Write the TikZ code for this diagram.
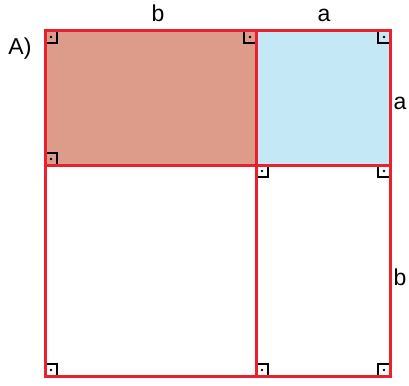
\documentclass[tikz,border=0pt]{standalone}
\usepackage{fontspec}
\setmainfont{Liberation Sans}
\definecolor{redline}{RGB}{236,32,44}
\definecolor{brownfill}{RGB}{221,156,137}
\definecolor{bluefill}{RGB}{197,232,247}
\tikzset{
  side/.style={draw=redline,line width=3pt},
  ang/.style={draw=black,line width=1.2pt},
  lbl/.style={font=\fontsize{23}{27}\selectfont,anchor=base,inner sep=0pt}
}
\newcommand{\rmark}[3]{%
  \draw[ang] #1 ++(#2*12,0) -- ++(0,#3*12) -- ++(-#2*12,0);
  \fill #1 ++(#2*6,#3*6) circle (1.3);
}
\begin{document}
\begin{tikzpicture}[x=1pt,y=-1pt]
\useasboundingbox (0,0) rectangle (409,385);
\coordinate (tl) at (45,31);
\coordinate (tm) at (256,31);
\coordinate (tr) at (390,31);
\coordinate (ml) at (45,165);
\coordinate (mm) at (256,165);
\coordinate (mr) at (390,165);
\coordinate (bl) at (45,376);
\coordinate (bm) at (256,376);
\coordinate (br) at (390,376);
\fill[brownfill] (tl) rectangle (mm);
\fill[bluefill] (tm) rectangle (mr);
% right angle marks
\rmark{(tl)}{1}{1}
\rmark{(tm)}{-1}{1}
\rmark{(ml)}{1}{-1}
\rmark{(tr)}{-1}{1}
\rmark{(mm)}{1}{1}
\rmark{(mr)}{-1}{1}
\rmark{(bl)}{1}{-1}
\rmark{(bm)}{1}{-1}
\rmark{(br)}{-1}{-1}
% sides
\draw[side] (tl) rectangle (br);
\draw[side] (tm) -- (bm);
\draw[side] (ml) -- (mr);
% labels
\node[lbl] (lb) at (158,22) {b};
\node[lbl] (la) at (324,22) {a};
\node[lbl] (ra) at (400,110) {a};
\node[lbl] (rb) at (400,285) {b};
\node[lbl] (lA) at (20,55) {A)};
\end{tikzpicture}
\end{document}
